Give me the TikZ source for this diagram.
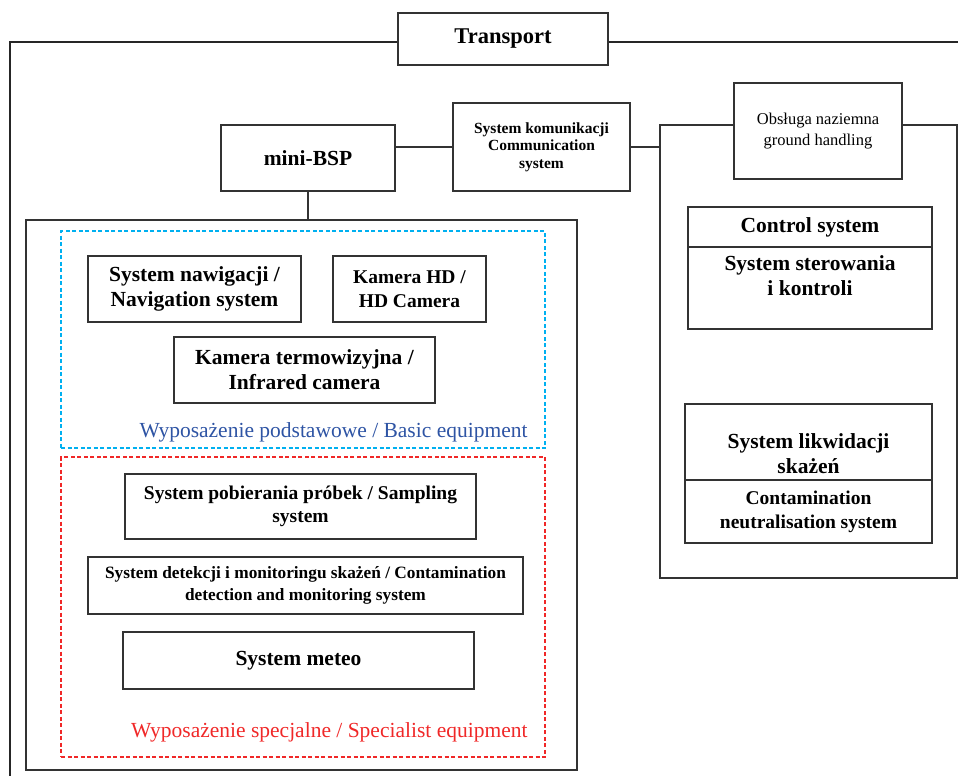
\documentclass[tikz,border=0pt]{standalone}
\usepackage{fontspec}
\setmainfont{Liberation Serif}
\usetikzlibrary{positioning}

\definecolor{basicline}{RGB}{0,176,240}
\definecolor{basictext}{RGB}{46,84,164}
\definecolor{specred}{RGB}{240,40,40}

\begin{document}
\begin{tikzpicture}[x=1pt,y=-1pt,
		box/.style={draw=black!80,line width=1.2pt,fill=white,align=center,inner sep=0pt,
			font=\fontsize{21.5}{25}\selectfont\bfseries},
		plain/.style={align=center,inner sep=0pt,font=\fontsize{21.5}{25}\selectfont\bfseries},
		frame/.style={draw=black!80,line width=1.2pt},
		group/.style={draw=#1,dash pattern=on 4pt off 2.5pt,line width=1.4pt,inner sep=0pt},
		grouplabel/.style={inner sep=0pt,anchor=south east,font=\fontsize{21.5}{25}\selectfont}]

	\useasboundingbox (0,0) rectangle (958,776);

	% frames
	\node[frame,minimum width=551pt,minimum height=550pt] (mainbox) at (301.5,495) {};
	\node[frame,minimum width=297pt,minimum height=453pt] (ground) at (808.5,351.5) {};

	\node[box,minimum width=210pt,minimum height=52pt,font=\fontsize{22.5}{26}\selectfont\bfseries]
		(transport) at (503,39) {Transport};
	\coordinate (tl) at (10,42);
	\coordinate (bl) at (10,776);
	\coordinate (tr) at (958,42);
	\draw[black!85,line width=2pt] (transport.west |- tl) -- (tl) -- (bl);
	\draw[black!85,line width=2pt] (transport.east |- tr) -- (tr);

	\node[box,minimum width=174pt,minimum height=66pt] (minibsp) at (308,158) {mini-BSP};
	\node[box,minimum width=177pt,minimum height=88pt,font=\fontsize{15.5}{17.5}\selectfont\bfseries]
		(komm) at (541.5,147) {System komunikacji\\Communication\\system};
	\node[box,minimum width=168pt,minimum height=96pt,font=\fontsize{16.5}{21}\selectfont]
		(handling) at (818,131) {Obsługa naziemna\\ground handling};

	\draw[frame] (komm.west) -- (komm.west -| minibsp.east);
	\draw[frame] (komm.east) -- (komm.east -| ground.west);
	\draw[frame] (minibsp.south) -- (minibsp.south |- mainbox.north);

	% basic equipment
	\node[group=basicline,minimum width=484pt,minimum height=217pt] (basic) at (303,339.5) {};
	\node[grouplabel,text=basictext] (basiclabel) at ([xshift=-18pt,yshift=6pt]basic.south east)
		{Wyposażenie podstawowe / Basic equipment};
	\node[box,minimum width=213pt,minimum height=66pt] (nav) at (194.5,289) {System nawigacji /\\Navigation system};
	\node[box,minimum width=153pt,minimum height=66pt,font=\fontsize{19.5}{24}\selectfont\bfseries]
		(hdcam) at (409.5,289) {Kamera HD /\\HD Camera};
	\node[box,minimum width=261pt,minimum height=66pt] (ircam) at (304.5,370) {Kamera termowizyjna /\\Infrared camera};

	% specialist equipment
	\node[group=specred,minimum width=484pt,minimum height=300pt] (spec) at (303,607) {};
	\node[grouplabel,text=specred] (speclabel) at ([xshift=-18pt,yshift=15pt]spec.south east)
		{Wyposażenie specjalne / Specialist equipment};
	\node[box,minimum width=351pt,minimum height=65pt,font=\fontsize{19.5}{23}\selectfont\bfseries]
		(sampling) at (300.5,506.5) {System pobierania próbek / Sampling\\system};
	\node[box,minimum width=435pt,minimum height=57pt,font=\fontsize{17.3}{22}\selectfont\bfseries]
		(detect) at (305.5,585.5) {System detekcji i monitoringu skażeń / Contamination\\detection and monitoring system};
	\node[box,minimum width=351pt,minimum height=57pt] (meteo) at (298.5,660.5) {System meteo};

	% ground handling side
	\node[box,minimum width=244pt,minimum height=122pt] (control) at (810,268) {};
	\node[box,minimum width=244pt,minimum height=40pt,anchor=north] (controlhead) at (control.north) {Control system};
	\node[plain,below=8pt of controlhead] (controltext) {System sterowania\\i kontroli};

	\node[box,minimum width=247pt,minimum height=139pt] (decon) at (808.5,473.5) {};
	\node[box,minimum width=247pt,minimum height=63pt,anchor=south,font=\fontsize{19.5}{24}\selectfont\bfseries]
		(decontail) at (decon.south) {Contamination\\neutralisation system};
	\node[plain,above=5pt of decontail] (decontext) {System likwidacji\\skażeń};
\end{tikzpicture}
\end{document}
